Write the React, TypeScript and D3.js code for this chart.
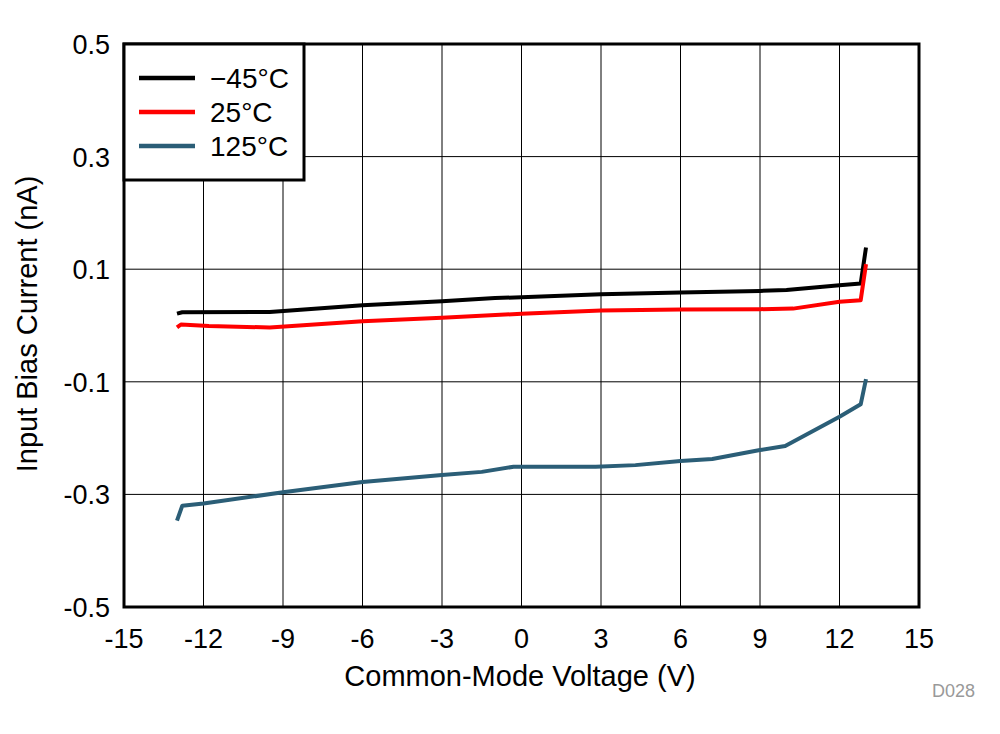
import React from "react";
import * as d3 from "d3";

const xTicks = [-15, -12, -9, -6, -3, 0, 3, 6, 9, 12, 15];
const yTicks = [0.5, 0.3, 0.1, -0.1, -0.3, -0.5];
const yTickLabels = ["0.5", "0.3", "0.1", "-0.1", "-0.3", "-0.5"];

const vM45 = [-13.0, -12.8, -9.5, -6, -3, -1, 0, 3, 6, 9, 10, 12, 12.8, 13.0];
const iM45 = [0.021, 0.0235, 0.024, 0.036, 0.043, 0.049, 0.05, 0.0556, 0.0586, 0.0615, 0.063, 0.0716, 0.0746, 0.1385];

const v25 = [-13.0, -12.85, -11.8, -9.5, -6, -3, 0, 3, 6, 9, 10.25, 12, 12.8, 13.0];
const i25 = [-0.0035, 0.0018, -0.001, -0.0035, 0.0077, 0.0136, 0.021, 0.0267, 0.0285, 0.029, 0.03, 0.042, 0.045, 0.109];

const v125 = [-13.0, -12.8, -12, -9, -6, -3, -1.5, -0.3, 2.8, 4.3, 6, 7.2, 9, 9.95, 12, 12.8, 13.0];
const i125 = [-0.3467, -0.32, -0.316, -0.2963, -0.278, -0.2656, -0.26, -0.2508, -0.2508, -0.248, -0.2407, -0.237, -0.2212, -0.2141, -0.162, -0.14, -0.0952];

const seriesNames = ["\u221245\u00B0C", "25\u00B0C", "125\u00B0C"];
const seriesColors = ["#000000", "#FF0000", "#2B5E77"];

const FONT = "'Liberation Sans', Arial, sans-serif";

export default function App() {
  const left = 124, right = 919, top = 44, bottom = 607;
  const x = d3.scaleLinear().domain([-15, 15]).range([left, right]);
  const y = d3.scaleLinear().domain([-0.5, 0.5]).range([bottom, top]);

  const series = [
    { v: vM45, i: iM45 },
    { v: v25, i: i25 },
    { v: v125, i: i125 },
  ];
  const line = d3.line<[number, number]>().x((d) => x(d[0])).y((d) => y(d[1]));

  return (
    <svg width={1000} height={734} style={{ position: "absolute", left: 0, top: 0, background: "#fff" }} fontFamily={FONT}>
      <rect x={0} y={0} width={1000} height={734} fill="#fff" />
      {xTicks.slice(1, -1).map((t) => (
        <line key={"gx" + t} x1={x(t)} x2={x(t)} y1={top} y2={bottom} stroke="#000" strokeWidth={1} />
      ))}
      {yTicks.slice(1, -1).map((t) => (
        <line key={"gy" + t} x1={left} x2={right} y1={y(t)} y2={y(t)} stroke="#000" strokeWidth={1} />
      ))}
      {series.map((s, k) => (
        <path
          key={"s" + k}
          d={line(s.v.map((vv, j) => [vv, s.i[j]] as [number, number])) || ""}
          fill="none"
          stroke={seriesColors[k]}
          strokeWidth={4}
          strokeLinejoin="round"
        />
      ))}
      <rect x={left} y={top} width={right - left} height={bottom - top} fill="none" stroke="#000" strokeWidth={3} />
      <rect x={124} y={44} width={180} height={136} fill="#fff" stroke="#000" strokeWidth={3} />
      {seriesNames.map((n, k) => (
        <g key={"lg" + k}>
          <line x1={139} x2={195} y1={78 + k * 34} y2={78 + k * 34} stroke={seriesColors[k]} strokeWidth={4.5} />
          <text x={210} y={88 + k * 34} fontSize={28} fill="#000">{n}</text>
        </g>
      ))}
      {yTicks.map((t, k) => (
        <text key={"yl" + t} x={110} y={y(t) + 10} fontSize={27} textAnchor="end" fill="#000">{yTickLabels[k]}</text>
      ))}
      {xTicks.map((t) => (
        <text key={"xl" + t} x={x(t)} y={648} fontSize={27} textAnchor="middle" fill="#000">{String(t)}</text>
      ))}
      <text x={520} y={686} fontSize={29} textAnchor="middle" fill="#000">Common-Mode Voltage (V)</text>
      <text transform="translate(37,324) rotate(-90)" fontSize={29} textAnchor="middle" fill="#000">Input Bias Current (nA)</text>
      <text x={975} y={697} fontSize={18} textAnchor="end" fill="#999">D028</text>
    </svg>
  );
}
